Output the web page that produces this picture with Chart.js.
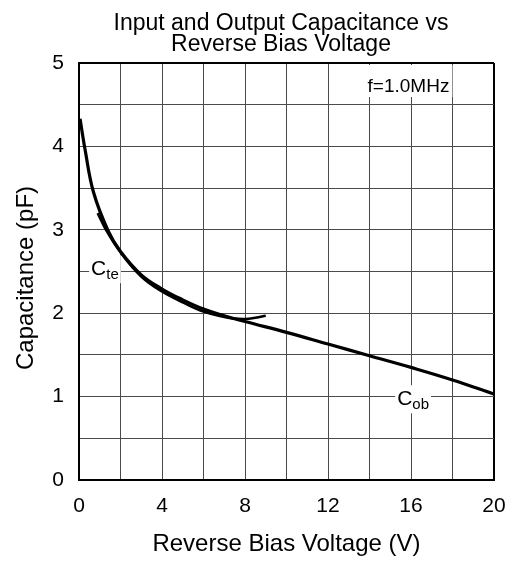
<!DOCTYPE html>
<html>
<head>
<meta charset="utf-8">
<script src="https://cdn.jsdelivr.net/npm/chart.js@4/dist/chart.umd.min.js"></script>
<style>
  body { margin: 0; background: #fff; }
  #wrap { width: 520px; height: 563px; }
</style>
</head>
<body>
<div id="wrap"><canvas id="chart"></canvas></div>
<script>
// Cob curve (output capacitance)
const cobVoltage = [0.05, 0.3, 0.7, 1.4, 2, 3, 4, 5, 6, 7, 8, 10, 12, 14, 16, 18, 20];
const cobCapacitance = [4.33, 3.95, 3.45, 2.99, 2.74, 2.46, 2.29, 2.16, 2.05, 1.97, 1.9, 1.77, 1.63, 1.49, 1.35, 1.2, 1.03];

// Cte curve (input capacitance)
const cteVoltage = [0.9, 1.3, 2, 3, 4, 5, 6, 7, 7.5, 8, 8.5, 9];
const cteCapacitance = [3.2, 3.0, 2.73, 2.44, 2.26, 2.13, 2.02, 1.955, 1.935, 1.93, 1.945, 1.97];

// labelled ticks
const xLabelTicks = [0, 4, 8, 12, 16, 20];
const yLabelTicks = [0, 1, 2, 3, 4, 5];

const titleLines = ['Input and Output Capacitance vs', 'Reverse Bias Voltage'];
const FONT = 'Liberation Sans, Arial, sans-serif';

function toPoints(xs, ys) {
    return xs.map((x, i) => ({ x: x, y: ys[i] }));
}

// labels drawn in the plot, with a white box behind them
function drawSubLabel(ctx, chart, v, c, main, sub) {
    const x = chart.scales.x.getPixelForValue(v);
    const y = chart.scales.y.getPixelForValue(c);
    ctx.font = '21px ' + FONT;
    const w1 = ctx.measureText(main).width;
    ctx.font = '15px ' + FONT;
    const w2 = ctx.measureText(sub).width;
    const left = x - (w1 + w2) / 2;
    ctx.fillStyle = '#fff';
    ctx.fillRect(left - 2, y - 13, w1 + w2 + 4, 28);
    ctx.fillStyle = '#000';
    ctx.textBaseline = 'alphabetic';
    ctx.textAlign = 'left';
    ctx.font = '21px ' + FONT;
    ctx.fillText(main, left, y + 7);
    ctx.font = '15px ' + FONT;
    ctx.fillText(sub, left + w1, y + 11);
}

const textPlugin = {
    id: 'texts',
    beforeDatasetsDraw(chart) {
        const ctx = chart.ctx;
        ctx.save();
        drawSubLabel(ctx, chart, 1.25, 2.54, 'C', 'te');
        drawSubLabel(ctx, chart, 16.1, 0.98, 'C', 'ob');
        // frequency note
        ctx.font = '19px ' + FONT;
        const fx = chart.scales.x.getPixelForValue(17.85);
        const fy = chart.scales.y.getPixelForValue(4.65);
        const fw = ctx.measureText('f=1.0MHz').width;
        ctx.fillStyle = '#fff';
        ctx.fillRect(fx - fw - 3, chart.chartArea.top + 2, fw + 6, 32);
        ctx.fillStyle = '#000';
        ctx.textAlign = 'right';
        ctx.textBaseline = 'alphabetic';
        ctx.fillText('f=1.0MHz', fx, fy);
        ctx.restore();
    },
    afterDraw(chart) {
        const ctx = chart.ctx;
        ctx.save();
        ctx.fillStyle = '#000';
        ctx.textAlign = 'center';
        ctx.textBaseline = 'alphabetic';
        ctx.font = '23px ' + FONT;
        ctx.fillText(titleLines[0], 281, 30);
        ctx.fillText(titleLines[1], 281, 51);
        // y axis title
        ctx.font = '24px ' + FONT;
        ctx.translate(33, 278);
        ctx.rotate(-Math.PI / 2);
        ctx.fillText('Capacitance (pF)', 0, 0);
        ctx.restore();
    }
};

const gridColor = '#4a4a4a';

new Chart(document.getElementById('chart'), {
    type: 'line',
    data: {
        datasets: [
            {
                label: 'Cob',
                data: toPoints(cobVoltage, cobCapacitance),
                borderColor: '#000',
                borderWidth: 3.2,
                pointRadius: 0,
                fill: false,
                tension: 0.4
            },
            {
                label: 'Cte',
                data: toPoints(cteVoltage, cteCapacitance),
                borderColor: '#000',
                borderWidth: 2.6,
                pointRadius: 0,
                fill: false,
                tension: 0.4
            }
        ]
    },
    options: {
        responsive: true,
        maintainAspectRatio: false,
        animation: false,
        layout: { padding: { top: 63, right: 26, left: 0, bottom: 0 } },
        plugins: {
            legend: { display: false },
            tooltip: { enabled: false }
        },
        scales: {
            x: {
                type: 'linear',
                min: 0,
                max: 20,
                afterFit(scale) { scale.height = 83; },
                ticks: {
                    stepSize: 2,
                    autoSkip: false,
                    maxRotation: 0,
                    padding: 14,
                    color: '#000',
                    font: { family: FONT, size: 21 },
                    callback: v => xLabelTicks.includes(v) ? v : ''
                },
                grid: {
                    drawTicks: false,
                    color: c => c.tick && c.tick.value === 20 ? '#000' : gridColor,
                    lineWidth: c => c.tick && c.tick.value === 20 ? 2 : 1
                },
                border: { color: '#000', width: 2 },
                title: {
                    display: true,
                    text: 'Reverse Bias Voltage (V)',
                    color: '#000',
                    font: { family: FONT, size: 24 },
                    padding: { top: 0, bottom: 4 }
                }
            },
            y: {
                min: 0,
                max: 5,
                afterFit(scale) { scale.width = 79; },
                ticks: {
                    stepSize: 0.5,
                    autoSkip: false,
                    padding: 15,
                    color: '#000',
                    font: { family: FONT, size: 21 },
                    callback: v => yLabelTicks.includes(v) ? v : ''
                },
                grid: {
                    drawTicks: false,
                    color: c => c.tick && c.tick.value === 5 ? '#000' : gridColor,
                    lineWidth: c => c.tick && c.tick.value === 5 ? 2 : 1
                },
                border: { color: '#000', width: 2 }
            }
        }
    },
    plugins: [textPlugin]
});
</script>
</body>
</html>
